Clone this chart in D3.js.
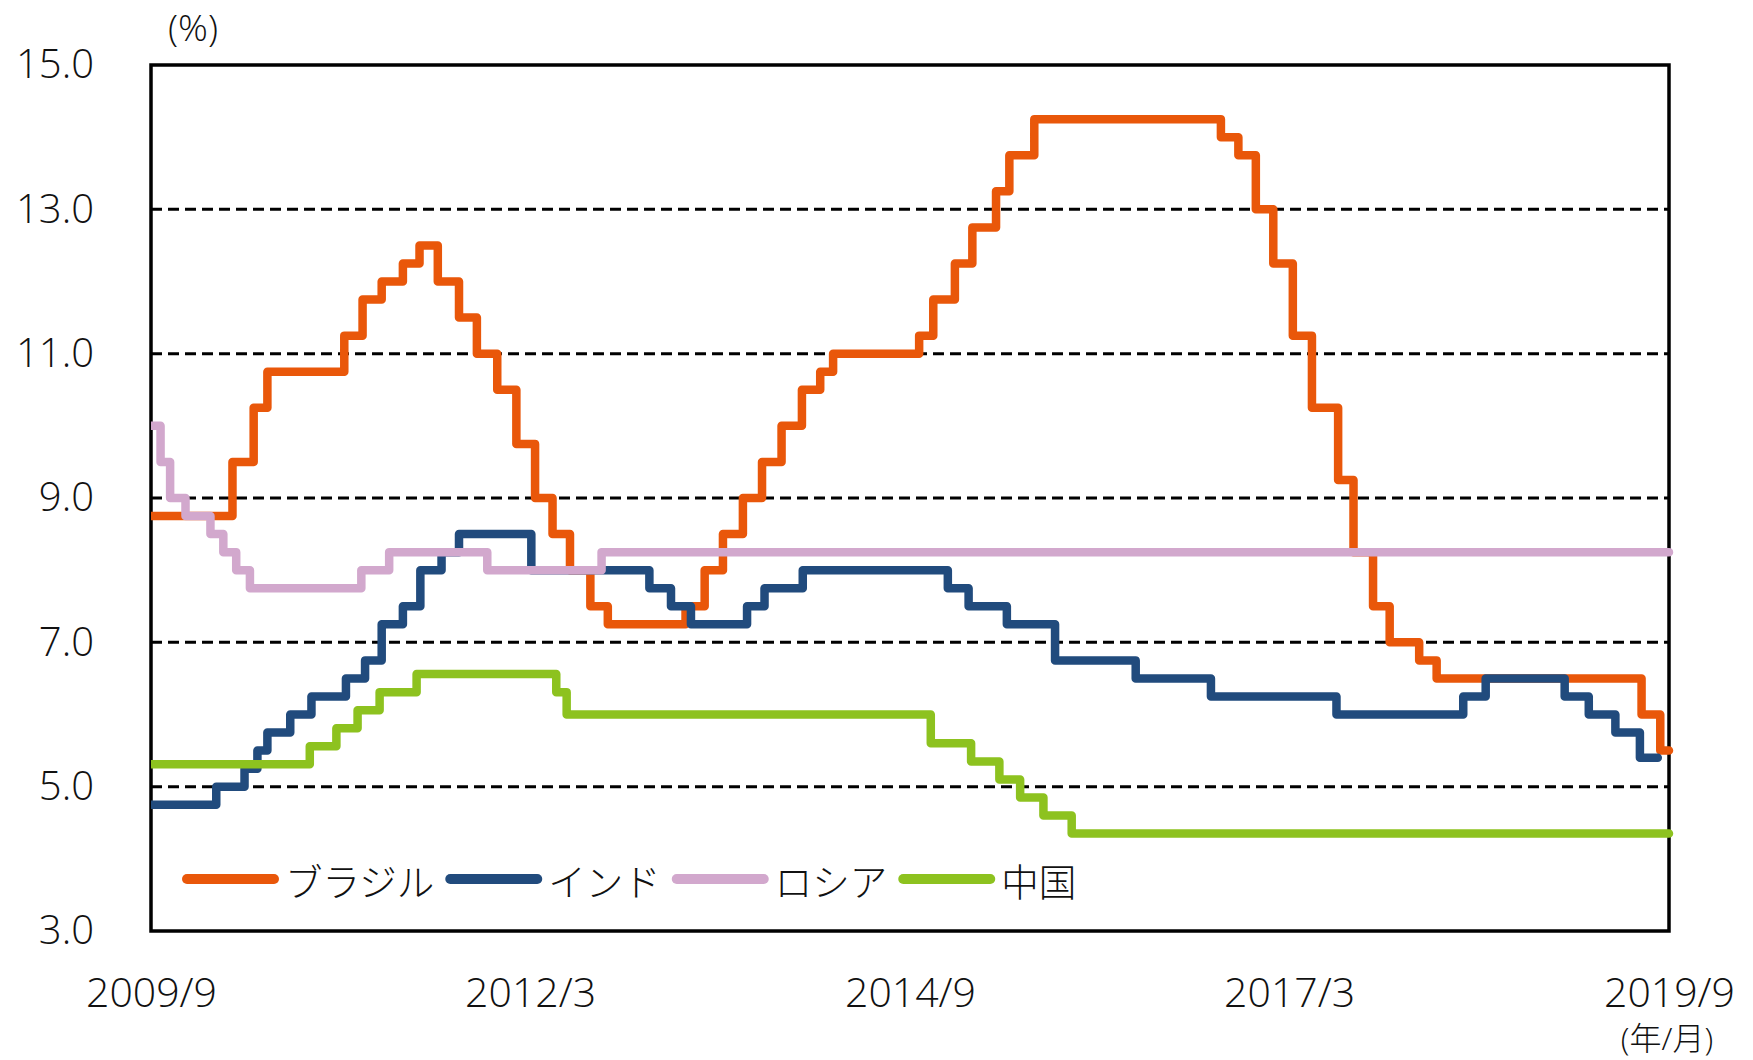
<!DOCTYPE html>
<html>
<head>
<meta charset="utf-8">
<script src="https://cdn.jsdelivr.net/npm/d3@7"></script>
<style>
  html, body { margin: 0; padding: 0; background: #fff; }
  svg { display: block; }
  text { font-family: "Open Sans", "Noto Sans CJK JP", sans-serif; font-weight: 300; fill: #111; }
  .jp { font-family: "Noto Sans CJK JP", "Open Sans", sans-serif; }
</style>
</head>
<body>
<svg id="chart" width="1753" height="1060"></svg>
<script>
// Policy rates (%), given as [date the rate took effect, rate]
const brazil = [
  ["2009-09-01", 8.75], ["2010-03-16", 9.5], ["2010-05-06", 10.25], ["2010-06-08", 10.75],
  ["2010-12-10", 11.25], ["2011-01-23", 11.75], ["2011-03-10", 12.0], ["2011-04-30", 12.25],
  ["2011-06-09", 12.5], ["2011-07-23", 12.0], ["2011-09-12", 11.5], ["2011-10-25", 11.0],
  ["2011-12-13", 10.5], ["2012-01-28", 9.75], ["2012-03-13", 9.0], ["2012-04-24", 8.5],
  ["2012-06-05", 8.0], ["2012-07-24", 7.5], ["2012-09-04", 7.25], ["2013-03-10", 7.5],
  ["2013-04-25", 8.0], ["2013-06-08", 8.5], ["2013-07-26", 9.0], ["2013-09-10", 9.5],
  ["2013-10-27", 10.0], ["2013-12-15", 10.5], ["2014-01-28", 10.75], ["2014-02-28", 11.0],
  ["2014-09-23", 11.25], ["2014-10-27", 11.75], ["2014-12-18", 12.25], ["2015-01-29", 12.75],
  ["2015-03-27", 13.25], ["2015-04-28", 13.75], ["2015-06-27", 14.25], ["2016-09-18", 14.0],
  ["2016-10-30", 13.75], ["2016-12-11", 13.0], ["2017-01-22", 12.25], ["2017-03-10", 11.25],
  ["2017-04-25", 10.25], ["2017-06-27", 9.25], ["2017-08-03", 8.25], ["2017-09-19", 7.5],
  ["2017-10-29", 7.0], ["2018-01-08", 6.75], ["2018-02-19", 6.5], ["2019-06-27", 6.0],
  ["2019-08-11", 5.5], ["2019-09-01", 5.5]
];

const india = [
  ["2009-09-01", 4.75], ["2010-02-05", 5.0], ["2010-04-14", 5.25], ["2010-05-15", 5.5],
  ["2010-06-08", 5.75], ["2010-08-02", 6.0], ["2010-09-22", 6.25], ["2010-12-14", 6.5],
  ["2011-01-29", 6.75], ["2011-03-10", 7.25], ["2011-04-30", 7.5], ["2011-06-11", 8.0],
  ["2011-08-01", 8.25], ["2011-09-12", 8.5], ["2012-03-04", 8.0], ["2012-12-13", 7.75],
  ["2013-02-03", 7.5], ["2013-03-23", 7.25], ["2013-08-05", 7.5], ["2013-09-16", 7.75],
  ["2013-12-17", 8.0], ["2014-12-01", 7.75], ["2015-01-20", 7.5], ["2015-04-22", 7.25],
  ["2015-08-16", 6.75], ["2016-02-26", 6.5], ["2016-08-25", 6.25], ["2017-06-23", 6.0],
  ["2018-04-24", 6.25], ["2018-06-17", 6.5], ["2018-12-24", 6.25], ["2019-02-20", 6.0],
  ["2019-04-25", 5.75], ["2019-06-23", 5.4], ["2019-08-05", 5.4]
];

const russia = [
  ["2009-09-01", 10.0], ["2009-09-24", 9.5], ["2009-10-17", 9.0], ["2009-11-23", 8.75],
  ["2010-01-22", 8.5], ["2010-02-22", 8.25], ["2010-03-25", 8.0], ["2010-04-27", 7.75],
  ["2011-01-20", 8.0], ["2011-03-28", 8.25], ["2011-11-19", 8.0], ["2012-08-20", 8.25],
  ["2019-09-01", 8.25]
];

const china = [
  ["2009-09-01", 5.31], ["2010-09-18", 5.56], ["2010-11-21", 5.81], ["2011-01-11", 6.06],
  ["2011-03-05", 6.31], ["2011-06-02", 6.56], ["2012-05-03", 6.31], ["2012-05-28", 6.0],
  ["2014-10-21", 5.6], ["2015-01-26", 5.35], ["2015-04-04", 5.1], ["2015-05-24", 4.85],
  ["2015-07-19", 4.6], ["2015-09-25", 4.35], ["2019-09-01", 4.35]
];

const seriesNames = ["ブラジル", "インド", "ロシア", "中国"];
const xTickLabels = ["2009/9", "2012/3", "2014/9", "2017/3", "2019/9"];
const yTickValues = [3, 5, 7, 9, 11, 13, 15];

// Styling
const colors = ["#E9570A", "#214B7D", "#D2A8CD", "#8DC21F"];
const margin = { left: 151, right: 1669, top: 65, bottom: 931 };

const svg = d3.select("#chart");
const parseDay = d3.timeParse("%Y-%m-%d");
const parseMonth = d3.timeParse("%Y/%m");

const x = d3.scaleTime()
  .domain([parseMonth("2009/9"), parseMonth("2019/9")])
  .range([margin.left, margin.right]);
const y = d3.scaleLinear()
  .domain([3, 15])
  .range([margin.bottom, margin.top]);

// Dashed gridlines
svg.append("g")
  .selectAll("line")
  .data(yTickValues.filter(v => v > 3 && v < 15))
  .join("line")
  .attr("x1", margin.left).attr("x2", margin.right)
  .attr("y1", d => y(d)).attr("y2", d => y(d))
  .attr("stroke", "#000").attr("stroke-width", 3)
  .attr("stroke-dasharray", "11,6");

// Plot frame
svg.append("rect")
  .attr("x", margin.left).attr("y", margin.top)
  .attr("width", margin.right - margin.left)
  .attr("height", margin.bottom - margin.top)
  .attr("fill", "none").attr("stroke", "#000").attr("stroke-width", 3.5);

// Axes
const fontFamily = '"Open Sans", "Noto Sans CJK JP", sans-serif';
const yAxis = d3.axisLeft(y).tickValues(yTickValues).tickFormat(d3.format(".1f"))
  .tickSize(0).tickPadding(57);
const gy = svg.append("g").attr("transform", `translate(${margin.left},0)`).call(yAxis);
gy.select(".domain").remove();
gy.selectAll("text").style("font-size", "40px").style("font-weight", 300)
  .attr("fill", "#111").style("font-family", fontFamily);

const xAxis = d3.axisBottom(x).tickValues(xTickLabels.map(parseMonth))
  .tickFormat(d3.timeFormat("%Y/%-m")).tickSize(0).tickPadding(47);
const gx = svg.append("g").attr("transform", `translate(0,${margin.bottom})`).call(xAxis);
gx.select(".domain").remove();
gx.selectAll("text").style("font-size", "41px").style("font-weight", 300)
  .attr("fill", "#111").style("font-family", fontFamily);

// Unit labels
svg.append("text").attr("x", 193).attr("y", 41).attr("text-anchor", "middle")
  .style("font-size", "37px").text("(%)");
svg.append("text").attr("x", 1667).attr("y", 1050).attr("text-anchor", "middle")
  .style("font-size", "32px").text("(年/月)");

// Series lines (step after each rate change)
svg.append("defs").append("clipPath").attr("id", "plotClip")
  .append("rect").attr("x", margin.left).attr("y", 0)
  .attr("width", 1753 - margin.left).attr("height", 1060);

const line = d3.line()
  .x(d => x(parseDay(d[0])))
  .y(d => y(d[1]))
  .curve(d3.curveStepAfter);

const allSeries = [brazil, india, russia, china];
svg.append("g").attr("clip-path", "url(#plotClip)")
  .selectAll("path")
  .data(allSeries)
  .join("path")
  .attr("d", d => line(d))
  .attr("fill", "none")
  .attr("stroke", (d, i) => colors[i])
  .attr("stroke-width", 8.5)
  .attr("stroke-linejoin", "round")
  .attr("stroke-linecap", "round");

// Legend
const legend = svg.append("g");
const legendY = 879;
let lx = 182;
seriesNames.forEach((name, i) => {
  legend.append("line")
    .attr("x1", lx + 5).attr("x2", lx + 92)
    .attr("y1", legendY).attr("y2", legendY)
    .attr("stroke", colors[i]).attr("stroke-width", 10)
    .attr("stroke-linecap", "round");
  const t = legend.append("text")
    .attr("class", "jp")
    .attr("x", lx + 103).attr("y", legendY)
    .attr("dominant-baseline", "central")
    .style("font-size", "37.5px")
    .text(name);
  lx = lx + 103 + t.node().getComputedTextLength() + 11;
});
</script>
</body>
</html>
